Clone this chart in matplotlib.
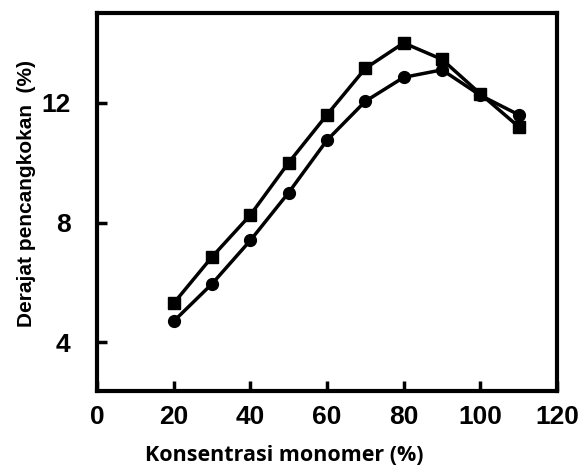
import matplotlib
matplotlib.use('Agg')
import matplotlib.pyplot as plt

# monomer concentration (%)
konsentrasi = [20, 30, 40, 50, 60, 70, 80, 90, 100, 110]
# grafting degree (%), two series
derajat_kotak = [5.3, 6.85, 8.25, 10.0, 11.6, 13.15, 14.0, 13.45, 12.3, 11.2]
derajat_bulat = [4.7, 5.95, 7.4, 9.0, 10.75, 12.05, 12.85, 13.1, 12.25, 11.6]

x_ticks = [0, 20, 40, 60, 80, 100, 120]
y_ticks = [4, 8, 12]

W, H = 582, 469
fig = plt.figure(figsize=(W / 100, H / 100), dpi=100)
ax = fig.add_axes([97 / W, 1 - 391 / H, 460 / W, 378 / H])

ax.plot(konsentrasi, derajat_bulat, color='black', lw=2.5, marker='o', ms=8.5)
ax.plot(konsentrasi, derajat_kotak, color='black', lw=2.5, marker='s', ms=9)

ax.set_xlim(0, 120)
ax.set_ylim(2.37, 15.0)
ax.set_xticks(x_ticks)
ax.set_yticks(y_ticks)
ax.tick_params(direction='in', length=7, width=2.5)
ax.tick_params(axis='x', pad=10)
ax.tick_params(axis='y', pad=19)
for lab in ax.get_xticklabels() + ax.get_yticklabels():
    lab.set_family('Liberation Sans')
    lab.set_fontweight('bold')
    lab.set_fontsize(19)
for s in ax.spines.values():
    s.set_linewidth(3)

fig.text(284 / W, 1 - 455 / H, 'Konsentrasi monomer (%)', family='Open Sans',
         fontweight='bold', fontsize=15.5, ha='center', va='center')
fig.text(27 / W, 1 - 193 / H, 'Derajat pencangkokan  (%)', family='Liberation Sans',
         fontweight='bold', fontsize=15, rotation=90, ha='center', va='center')

fig.savefig('out.png', dpi=100)
